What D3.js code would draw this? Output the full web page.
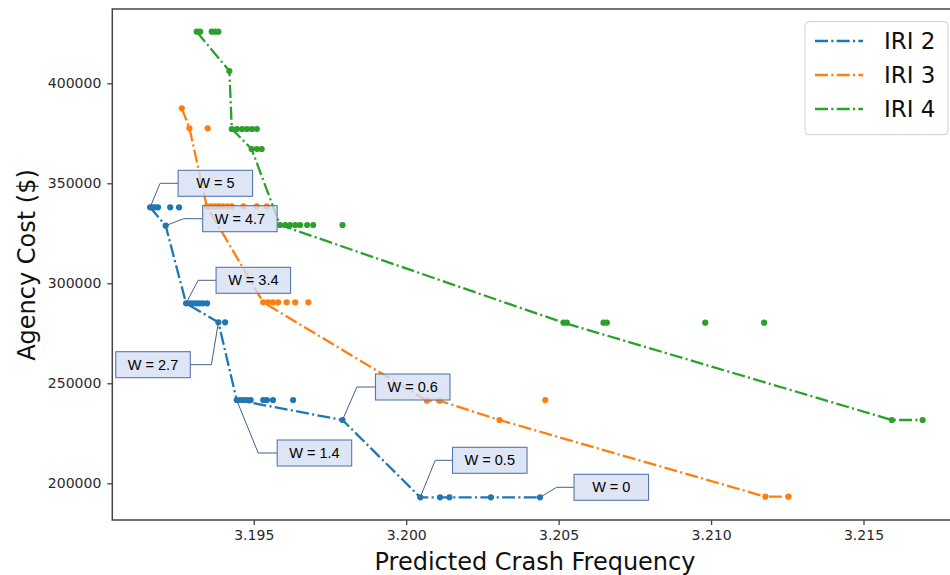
<!DOCTYPE html>
<html lang="en">
<head>
<meta charset="utf-8">
<title>Agency cost vs predicted crash frequency</title>
<script src="https://d3js.org/d3.v7.min.js"></script>
<style>
  body { margin: 0; background: #fff; }
  text { font-family: "DejaVu Sans", sans-serif; }
</style>
</head>
<body>
<div id="chart"></div>
<script>
// ---- data ----
var seriesNames = ["IRI 2", "IRI 3", "IRI 4"];
var colors = ["#1f77b4", "#ff7f0e", "#2ca02c"];

// all plotted dots, [crash frequency, agency cost]
var iri2Points = [
  [3.19160, 338000], [3.19168, 338000], [3.19176, 338000], [3.19186, 338000], [3.19226, 338000], [3.19255, 338000],
  [3.19211, 328800],
  [3.19278, 290000], [3.19290, 290000], [3.19300, 290000], [3.19312, 290000], [3.19322, 290000], [3.19333, 290000], [3.19347, 290000],
  [3.19384, 280500], [3.19406, 280500],
  [3.19444, 241650], [3.19455, 241650], [3.19466, 241650], [3.19478, 241650], [3.19490, 241650],
  [3.19531, 241650], [3.19543, 241650], [3.19563, 241650], [3.19629, 241650],
  [3.19791, 231650],
  [3.20046, 193000], [3.20111, 193000], [3.20142, 193000], [3.20278, 193000], [3.20439, 193000]
];
var iri3Points = [
  [3.19264, 387500], [3.19289, 377500], [3.19349, 377500],
  [3.19346, 338500], [3.19360, 338500], [3.19373, 338500], [3.19386, 338500], [3.19399, 338500], [3.19414, 338500], [3.19428, 338500],
  [3.19466, 338500], [3.19510, 338500], [3.19543, 338500],
  [3.19531, 290500], [3.19547, 290500], [3.19563, 290500], [3.19580, 290500], [3.19608, 290500], [3.19636, 290500], [3.19679, 290500],
  [3.20068, 241300], [3.20109, 241300],
  [3.20306, 231650], [3.20456, 241600],
  [3.21178, 193300], [3.21254, 193300]
];
var iri4Points = [
  [3.19313, 425800], [3.19324, 425800], [3.19362, 425800], [3.19373, 425800], [3.19384, 425800],
  [3.19420, 406150],
  [3.19428, 377150], [3.19445, 377150], [3.19462, 377150], [3.19478, 377150], [3.19494, 377150], [3.19510, 377150],
  [3.19493, 367150], [3.19510, 367150], [3.19526, 367150],
  [3.19586, 329150], [3.19603, 329150], [3.19619, 329150], [3.19636, 329150], [3.19652, 329150], [3.19675, 329150], [3.19695, 329150],
  [3.19791, 329150],
  [3.20516, 280300], [3.20527, 280300], [3.20647, 280300], [3.20658, 280300], [3.20981, 280300], [3.21174, 280300],
  [3.21593, 231650], [3.21694, 231650]
];

// the dash-dot front drawn through each series
var iri2Front = [[3.19160, 338000], [3.19211, 328800], [3.19278, 290000], [3.19384, 280500], [3.19444, 241650],
  [3.19791, 231650], [3.20046, 193000], [3.20439, 193000]];
var iri3Front = [[3.19264, 387500], [3.19289, 377500], [3.19346, 338500], [3.19531, 290500], [3.20068, 241300],
  [3.20109, 241300], [3.20306, 231650], [3.21178, 193300], [3.21254, 193300]];
var iri4Front = [[3.19313, 425800], [3.19420, 406150], [3.19428, 377150], [3.19493, 367150], [3.19586, 329150],
  [3.20516, 280300], [3.21593, 231650], [3.21694, 231650]];

// weight labels and the IRI 2 point each one points at
var wLabels = ["W = 5", "W = 4.7", "W = 3.4", "W = 2.7", "W = 1.4", "W = 0.6", "W = 0.5", "W = 0"];
var wAnchors = [[3.19160, 338000], [3.19211, 328800], [3.19278, 290000], [3.19384, 280500],
  [3.19444, 241650], [3.19791, 231650], [3.20046, 193000], [3.20439, 193000]];

var xTicks = [3.195, 3.200, 3.205, 3.210, 3.215];
var yTicks = [200000, 250000, 300000, 350000, 400000];

// ---- layout ----
var w = 950, h = 575;
var plotL = 112.3, plotR = 951, plotT = 9, plotB = 520;

// callout box placement relative to anchor (px): box dx, dy, elbow dx
var calloutLayout = [
  [28, -37, 10], [37, -20, 18], [30, -36, 12], [-102.6, 29.4, -7],
  [40.5, 40, 21.5], [33, -46, 14.4], [32.3, -50, 15], [34, -23, 16.7]
];
var boxW = 74.5, boxH = 26;

var svg = d3.select("#chart").append("svg")
  .attr("width", w)
  .attr("height", h);

var xScale = d3.scaleLinear().domain([3.19036, 3.21787]).range([plotL, plotR]);
var yScale = d3.scaleLinear().domain([181650, 437150]).range([plotB, plotT]);

// axes
var xAxis = d3.axisBottom(xScale).tickValues(xTicks).tickFormat(d3.format(".3f")).tickSize(5).tickPadding(5);
var yAxis = d3.axisLeft(yScale).tickValues(yTicks).tickFormat(d3.format("d")).tickSize(5).tickPadding(6);

var gx = svg.append("g")
  .attr("transform", "translate(0," + plotB + ")")
  .call(xAxis);
var gy = svg.append("g")
  .attr("transform", "translate(" + plotL + ",0)")
  .call(yAxis);
[gx, gy].forEach(function(g) {
  g.select(".domain").remove();
  g.selectAll(".tick line").attr("stroke", "#444").attr("stroke-width", 1.3);
  g.selectAll(".tick text").attr("fill", "#2a2a2a").style("font-size", "14px")
    .style("font-family", "'DejaVu Sans', sans-serif");
});

// spines
svg.append("path")
  .attr("d", "M" + plotR + "," + plotT + "H" + plotL + "V" + plotB + "H" + plotR)
  .attr("fill", "none")
  .attr("stroke", "#444")
  .attr("stroke-width", 1.5);

// axis titles
svg.append("text")
  .attr("x", 535).attr("y", 570)
  .attr("text-anchor", "middle")
  .style("font-size", "24px").attr("fill", "#111")
  .text("Predicted Crash Frequency");
svg.append("text")
  .attr("transform", "translate(35,265) rotate(-90)")
  .attr("text-anchor", "middle")
  .style("font-size", "24px").attr("fill", "#111")
  .text("Agency Cost ($)");

// series
var dash = "13,3.3,2.1,3.3";
var line = d3.line()
  .x(function(d) { return xScale(d[0]); })
  .y(function(d) { return yScale(d[1]); });

var allPoints = [iri2Points, iri3Points, iri4Points];
var fronts = [iri2Front, iri3Front, iri4Front];

fronts.forEach(function(f, i) {
  svg.append("path")
    .datum(f)
    .attr("d", line)
    .attr("fill", "none")
    .attr("stroke", colors[i])
    .attr("stroke-width", 2.3)
    .attr("stroke-dasharray", dash);

  svg.selectAll(".dot" + i)
    .data(allPoints[i])
    .enter()
    .append("circle")
    .attr("class", "dot" + i)
    .attr("cx", function(d) { return xScale(d[0]); })
    .attr("cy", function(d) { return yScale(d[1]); })
    .attr("r", 3.1)
    .style("fill", colors[i]);
});

// legend
var lg = svg.append("g");
lg.append("rect")
  .attr("x", 805).attr("y", 21.7)
  .attr("width", 143).attr("height", 113)
  .attr("rx", 4)
  .attr("fill", "#fff").attr("fill-opacity", 0.8)
  .attr("stroke", "#d0d0d0");
seriesNames.forEach(function(name, i) {
  var yy = 41 + i * 34;
  lg.append("line")
    .attr("x1", 815).attr("x2", 863)
    .attr("y1", yy).attr("y2", yy)
    .attr("stroke", colors[i])
    .attr("stroke-width", 2.3)
    .attr("stroke-dasharray", dash);
  lg.append("text")
    .attr("x", 884).attr("y", yy)
    .attr("dominant-baseline", "central")
    .style("font-size", "23px").attr("fill", "#111")
    .text(name);
});

// weight callouts
wLabels.forEach(function(lab, i) {
  var ax = xScale(wAnchors[i][0]), ay = yScale(wAnchors[i][1]);
  var c = calloutLayout[i];
  var bx = ax + c[0], by = ay + c[1];
  var sideX = c[0] > 0 ? bx : bx + boxW;
  var midY = by + boxH / 2;

  svg.append("path")
    .attr("d", "M" + sideX + "," + midY + "H" + (ax + c[2]) + "L" + ax + "," + ay)
    .attr("fill", "none")
    .attr("stroke", "#45618a")
    .attr("stroke-width", 1);

  svg.append("rect")
    .attr("x", bx).attr("y", by)
    .attr("width", boxW).attr("height", boxH)
    .attr("fill", "#d6e0f2")
    .attr("fill-opacity", 0.8)
    .attr("stroke", "#5677ad")
    .attr("stroke-width", 1.1);

  svg.append("text")
    .attr("x", bx + boxW / 2).attr("y", midY)
    .attr("text-anchor", "middle")
    .attr("dominant-baseline", "central")
    .style("font-family", "'Liberation Sans', Arial, sans-serif")
    .style("font-size", "14.5px")
    .attr("fill", "#000")
    .text(lab);
});
</script>
</body>
</html>
